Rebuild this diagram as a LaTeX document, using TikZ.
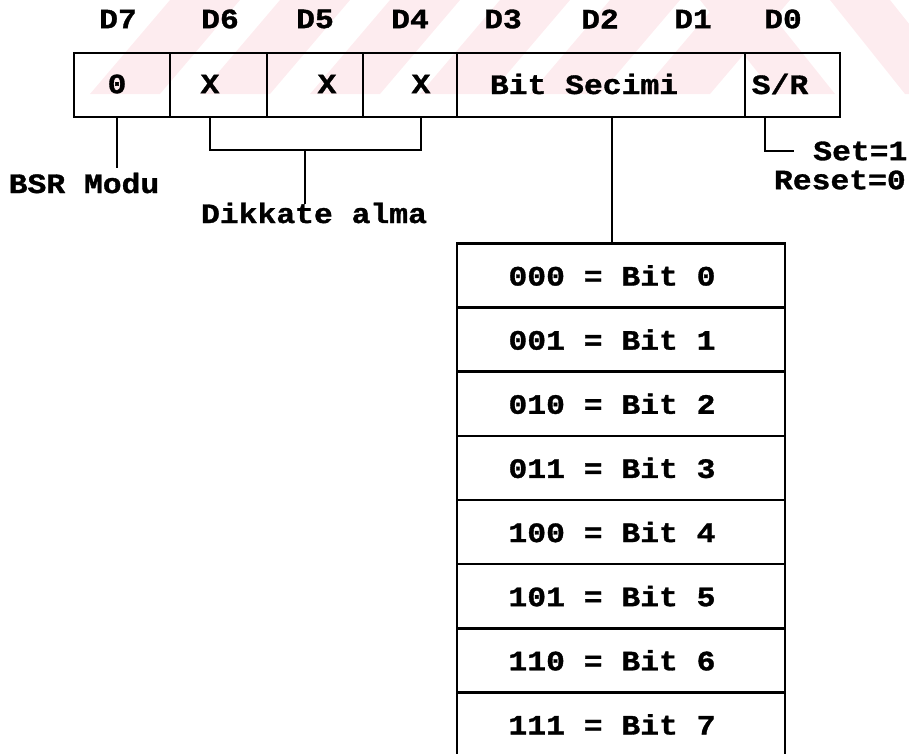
\documentclass[tikz,border=0pt]{standalone}
\usepackage{fontspec}
\newfontfamily\dotfont{Liberation Mono}[FakeStretch=1.12, FakeBold=1.2]
\usetikzlibrary{positioning}
\definecolor{wmarkpink}{RGB}{253,236,239}

\tikzset{
  wire/.style={line width=2pt, line cap=rect},
  cell/.style={draw, line width=2pt, minimum height=48pt, inner sep=0pt, outer sep=0pt},
  row/.style={draw, line width=2pt, minimum width=246pt, minimum height=48.1pt, inner sep=0pt, outer sep=0pt},
  txt/.style={font={\fontsize{21}{24}\dotfont\bfseries}, inner sep=0pt},
  wmark/.style={fill=wmarkpink},
}

\begin{document}
\begin{tikzpicture}[x=0.75pt, y=-0.75pt]
  \useasboundingbox (0,0) rectangle (909,753);
  \clip (0,0) rectangle (909,753);

  % faint watermark stripes at the top
  \begin{scope}
    \clip (0,0) rectangle (909,94);
    \foreach \s in {90,200,...,640}
      \fill[wmark] (\s,94) -- ++(70,0) -- ++(80,-94) -- ++(-70,0) -- cycle;
    \foreach \s in {700,830}
      \fill[wmark] (\s,0) -- ++(60,0) -- ++(75,94) -- ++(-60,0) -- cycle;
  \end{scope}

  % Bit numbers
  \foreach \name/\x in {7/118, 6/220, 5/315, 4/410, 3/503, 2/600, 1/693, 0/783}
    \node[txt] (d\name) at (\x,19) {D\name};

  % Control word cells
  \node[cell, minimum width=72pt] (c7) at (122,85) {};
  \node[cell, minimum width=72.75pt] (c6) at (218.5,85) {};
  \node[cell, minimum width=72pt] (c5) at (315,85) {};
  \node[cell, minimum width=70.5pt] (c4) at (410,85) {};
  \node[cell, minimum width=216pt] (sel) at (601,85) {};
  \node[cell, minimum width=71.25pt] (sr) at (792.5,85) {};

  % Cell texts
  \node[txt] (t7) at (117,84) {0};
  \node[txt] (t6) at (210,84) {X};
  \node[txt] (t5) at (327,84) {X};
  \node[txt] (t4) at (421,84) {X};
  \node[txt] (tsel) at (584,84) {Bit Secimi};
  \node[txt] (tsr) at (780,84) {S/R};

  % Labels
  \node[txt] (bsr) at (84,183) {BSR Modu};
  \node[txt] (dik) at (314,213) {Dikkate alma};
  \node[txt, anchor=west] (set) at (813,151) {Set=1};
  \node[txt, anchor=east] (reset) at (906,180) {Reset=0};

  % Bit select table
  \node[row] (r0) at (621,275.5) {};
  \foreach \i [remember=\i as \j (initially 0)] in {1,...,7}
    \node[row, below=0pt of r\j] (r\i) {};
  \foreach \code [count=\i from 0] in {000,001,010,011,100,101,110,111}
    \node[txt] (l\i) at ([xshift=-6.75pt]r\i.center) {\code{} = Bit \i};

  % Connectors
  \draw[wire, shorten >=4pt] (c7.south -| t7) -- (t7 |- bsr.north);
  \coordinate (brk) at (305,150);
  \draw[wire] (c6.south -| t6) |- (brk) -| (c4.south -| t4);
  \draw[wire] (brk) -- (brk |- dik.north);
  \draw[wire] (sel.south -| l0) -- (l0 |- r0.north);
  \coordinate (srb) at (765,151);
  \draw[wire] (sr.south -| srb) |- ([xshift=-15pt]set.west);
\end{tikzpicture}
\end{document}
